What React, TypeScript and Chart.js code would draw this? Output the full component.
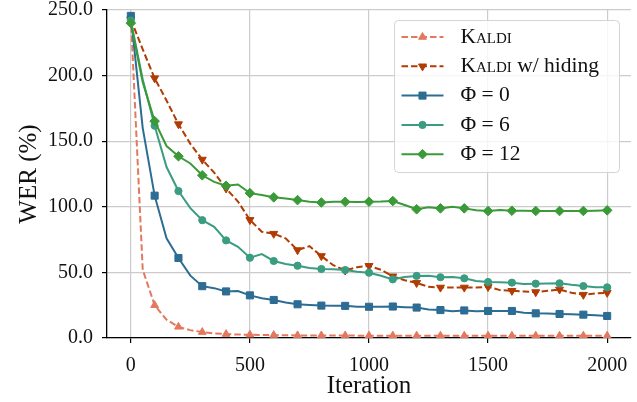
import React, { useEffect, useRef } from 'react';
import { Chart, registerables } from 'chart.js';
import { drawPoint } from 'chart.js/helpers';

Chart.register(...registerables);

const ITERATIONS = [
  0, 50, 100, 150, 200, 250, 300, 350, 400, 450, 500, 550, 600, 650, 700, 750, 800, 850, 900, 950,
  1000, 1050, 1100, 1150, 1200, 1250, 1300, 1350, 1400, 1450, 1500, 1550, 1600, 1650, 1700, 1750,
  1800, 1850, 1900, 1950, 2000,
];

const KALDI = [
  245, 52, 25, 14, 8.5, 6, 4.5, 3.5, 3, 2.6, 2.5, 2.3, 2.2, 2.1, 2.0, 2.0, 1.9, 1.9, 1.9, 1.8,
  1.8, 1.8, 1.8, 1.8, 1.7, 1.7, 1.7, 1.7, 1.7, 1.7, 1.7, 1.7, 1.7, 1.7, 1.7, 1.7,
  1.7, 1.7, 1.7, 1.7, 1.7,
];

const KALDI_HIDING = [
  243, 220, 198, 181, 163, 148, 136, 126, 114, 104, 90, 81, 79.5, 76, 67, 70, 62.5, 55.5, 51.5, 54,
  55, 52, 47, 44, 42, 39, 38.5, 38.5, 38.5, 38.5, 39, 36.5, 36, 35.5, 35, 36,
  37, 34.5, 33, 34, 34.5,
];

const PHI_0 = [
  245.5, 160, 108.5, 76, 61, 47.5, 39.5, 38, 35.5, 35.8, 32.5, 30.3, 29, 27, 25.7, 25.2, 24.7, 24.5, 24.5, 23.8,
  23.8, 23.8, 24, 23.5, 23.2, 21.8, 21.3, 20.3, 21, 20.3, 20.6, 20.6, 20.6, 19.3, 18.8, 18.6,
  18.3, 18.1, 17.8, 17.3, 16.8,
];

const PHI_6 = [
  242, 197, 161.8, 130.3, 112, 99, 89.8, 84.7, 74.4, 69.5, 61.2, 64, 58.7, 56.4, 55.1, 53.4, 52.6, 52.4, 51.8, 50.5,
  49.8, 47.5, 44.7, 46.5, 47.3, 47.5, 46.3, 46.5, 45.5, 43.5, 42.7, 42.4, 42.2, 41.2, 41.4, 41.6,
  41.7, 40.5, 39.6, 38.6, 38.6,
];

const PHI_12 = [
  240, 195, 165.3, 146.3, 138.5, 133, 124, 119, 116, 117, 110.4, 109, 107.2, 106.4, 105.1, 103.8, 103.3, 103.8, 103.8, 103.6,
  103.9, 104, 104.4, 101.4, 98.1, 99.6, 98.8, 100, 98.8, 97.3, 96.8, 97.6, 97, 97, 96.8, 96.8,
  96.8, 96.8, 96.8, 97, 97.3,
];

const X_TICKS = [0, 500, 1000, 1500, 2000];
const Y_TICKS = [0, 50, 100, 150, 200, 250];

const LABELS = ['Kaldi', 'Kaldi w/ hiding', 'Φ = 0', 'Φ = 6', 'Φ = 12'];
const COLORS = ['#e4785f', '#b03c04', '#2d6c93', '#3a9c80', '#3a9a38'];

const FONT = "'Liberation Serif', 'DejaVu Serif', serif";
const TEXT = '#111111';
const LEGEND_FONT_SIZE = 21.5;

const legendPlugin = {
  id: 'mplLegend',
  afterDatasetsDraw(chart: any) {
    const ctx = chart.ctx as CanvasRenderingContext2D;
    const area = chart.chartArea;
    const w = 225;
    const h = 152;
    const x0 = Math.round(area.right - 12 - w) + 0.5;
    const y0 = Math.round(area.top + 10) + 0.5;
    ctx.save();
    ctx.beginPath();
    (ctx as any).roundRect(x0, y0, w, h, 4);
    ctx.fillStyle = 'rgba(255,255,255,0.8)';
    ctx.fill();
    ctx.strokeStyle = '#d4d4d4';
    ctx.lineWidth = 1;
    ctx.stroke();

    chart.data.datasets.forEach((ds: any, i: number) => {
      const y = y0 + 16.5 + i * 29.3;
      const lx0 = x0 + 7;
      const lx1 = x0 + 49;
      ctx.strokeStyle = ds.borderColor;
      ctx.lineWidth = ds.borderWidth;
      ctx.setLineDash(ds.borderDash || []);
      ctx.beginPath();
      ctx.moveTo(lx0, y);
      ctx.lineTo(lx1, y);
      ctx.stroke();
      ctx.setLineDash([]);
      ctx.fillStyle = ds.pointBackgroundColor;
      ctx.strokeStyle = ds.pointBorderColor;
      ctx.lineWidth = 1;
      drawPoint(
        ctx,
        {
          pointStyle: ds.pointStyle,
          rotation: ds.pointRotation || 0,
          radius: ds.legendRadius,
          borderWidth: 1,
        } as any,
        (lx0 + lx1) / 2,
        y
      );

      const tx = x0 + 66;
      ctx.fillStyle = TEXT;
      ctx.textBaseline = 'middle';
      ctx.textAlign = 'left';
      const label: string = ds.label;
      if (label.startsWith('Kaldi')) {
        ctx.font = `small-caps ${LEGEND_FONT_SIZE}px ${FONT}`;
        ctx.fillText('Kaldi', tx, y);
        const wk = ctx.measureText('Kaldi').width;
        const rest = label.slice(5);
        if (rest) {
          ctx.font = `${LEGEND_FONT_SIZE}px ${FONT}`;
          ctx.fillText(rest, tx + wk, y);
        }
      } else {
        ctx.font = `${LEGEND_FONT_SIZE}px ${FONT}`;
        ctx.fillText(label, tx, y);
      }
    });
    ctx.restore();
  },
};

function makeDataset(
  idx: number,
  data: number[],
  style: string,
  rotation: number,
  radius: number,
  dashed: boolean
) {
  const color = COLORS[idx];
  return {
    label: LABELS[idx],
    data: ITERATIONS.map((x, i) => ({ x, y: data[i] })),
    borderColor: color,
    backgroundColor: color,
    borderWidth: 2,
    borderDash: dashed ? [6.5, 3] : [],
    pointStyle: style,
    pointRotation: rotation,
    pointBackgroundColor: color,
    pointBorderColor: color,
    pointBorderWidth: 1,
    pointRadius: (c: any) => (c.dataIndex % 2 === 0 ? radius : 0),
    pointHoverRadius: 0,
    legendRadius: radius,
    tension: 0,
    fill: false,
    order: 5 - idx,
  };
}

export default function App() {
  const ref = useRef<HTMLCanvasElement | null>(null);

  useEffect(() => {
    if (!ref.current) return;
    const chart = new Chart(ref.current, {
      type: 'line',
      data: {
        datasets: [
          makeDataset(0, KALDI, 'triangle', 0, 4.5, true),
          makeDataset(1, KALDI_HIDING, 'triangle', 180, 4.6, true),
          makeDataset(2, PHI_0, 'rect', 0, 5, false),
          makeDataset(3, PHI_6, 'circle', 0, 3.6, false),
          makeDataset(4, PHI_12, 'rectRot', 0, 4.8, false),
        ] as any,
      },
      options: {
        animation: false,
        responsive: true,
        maintainAspectRatio: false,
        devicePixelRatio: 1,
        layout: { padding: { top: 10, right: 5, left: 0, bottom: 0 } },
        plugins: {
          legend: { display: false },
          tooltip: { enabled: false },
        },
        scales: {
          x: {
            type: 'linear',
            min: -100,
            max: 2100,
            afterBuildTicks: (scale: any) => {
              scale.ticks = X_TICKS.map((v) => ({ value: v }));
            },
            afterFit: (scale: any) => {
              scale.height = 64;
              scale.paddingLeft = 0;
              scale.paddingRight = 0;
            },
            grid: {
              color: '#cccccc',
              lineWidth: 1.2,
              drawTicks: true,
              tickLength: 5,
              tickColor: '#000000',
              tickWidth: 1.2,
            },
            border: { display: true, color: '#000000', width: 1.3 },
            ticks: {
              color: TEXT,
              font: { family: FONT, size: 20 },
              padding: 11,
              maxRotation: 0,
              callback: (v: any) => String(v),
            },
            title: {
              display: true,
              text: 'Iteration',
              color: TEXT,
              font: { family: FONT, size: 25 },
              padding: { top: 0, bottom: 1 },
            },
          },
          y: {
            type: 'linear',
            min: 0,
            max: 250,
            afterBuildTicks: (scale: any) => {
              scale.ticks = Y_TICKS.map((v) => ({ value: v }));
            },
            afterFit: (scale: any) => {
              scale.width = 107;
              scale.paddingTop = 0;
              scale.paddingBottom = 0;
            },
            grid: {
              color: '#cccccc',
              lineWidth: 1.2,
              drawTicks: true,
              tickLength: 5,
              tickColor: '#000000',
              tickWidth: 1.2,
            },
            border: { display: true, color: '#000000', width: 1.3 },
            ticks: {
              color: TEXT,
              font: { family: FONT, size: 20 },
              padding: 9,
              callback: (v: any) => Number(v).toFixed(1),
            },
            title: {
              display: true,
              text: 'WER (%)',
              color: TEXT,
              font: { family: FONT, size: 25 },
              padding: { top: 14, bottom: 0 },
            },
          },
        },
      } as any,
      plugins: [legendPlugin],
    });
    return () => chart.destroy();
  }, []);

  return (
    <div style={{ position: 'fixed', left: 0, top: 0, width: 637, height: 402, background: '#fff' }}>
      <canvas ref={ref} />
    </div>
  );
}
